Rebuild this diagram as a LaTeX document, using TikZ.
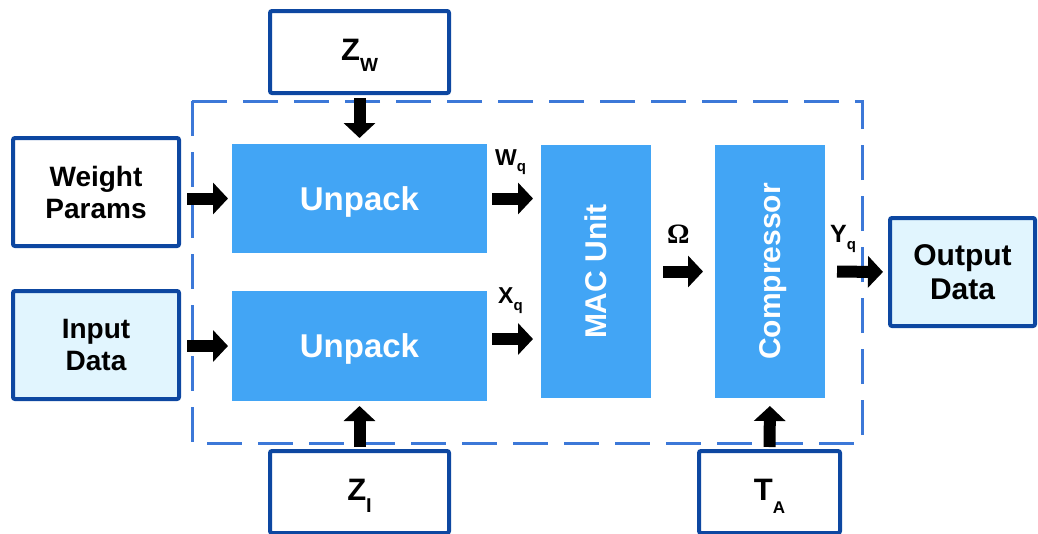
\documentclass[tikz,border=0pt]{standalone}
\usepackage{fontspec}
\setmainfont{Liberation Sans}
\newfontfamily\greekserif{Liberation Serif}
\usetikzlibrary{arrows.meta,calc}

\definecolor{unitblue}{HTML}{42A5F5}
\definecolor{paleblue}{HTML}{E1F5FE}
\definecolor{edgeblue}{HTML}{0D47A1}
\definecolor{dashblue}{HTML}{3C78D8}

% font size helper
\newcommand{\fsz}[1]{\fontsize{#1}{#1}\selectfont}

\begin{document}
\begin{tikzpicture}[x=1pt, y=-1pt, font=\bfseries,
  iobox/.style={draw=edgeblue, line width=4pt, rounded corners=2pt,
                outer sep=0pt, inner sep=0pt, align=center},
  parambox/.style={iobox, fill=white, minimum width=179pt, minimum height=82pt,
                   text height=24pt, text depth=8pt, font=\bfseries\fsz{31}},
  unit/.style={fill=unitblue, text=white, outer sep=0pt, inner sep=0pt,
               text depth=0pt, font=\bfseries\fsz{33}},
  flow/.style={line width=12pt, -{Triangle[width=31pt,length=15pt]}},
  tag/.style={anchor=base west, inner sep=0pt}]

\useasboundingbox (0,0) rectangle (1038,533);

% accelerator boundary
\draw[dashblue, line width=3pt, dash pattern=on 35pt off 16pt]
  (192,101) rectangle (862,443);

% parameter and data boxes
\node[parambox] (zw) at (359.5,52) {Z\raisebox{-11pt}{\fsz{19}W}};
\node[parambox] (zi) at (359.5,492) {Z\raisebox{-12pt}{\fsz{20}I}};
\node[parambox, minimum width=141pt] (ta) at (769.5,492) {T\raisebox{-13pt}{\fsz{17}A}};

\node[iobox, fill=white, minimum width=166pt, minimum height=108pt,
      font=\bfseries\fontsize{28}{32}\selectfont] (wp) at (96,192) {Weight\\Params};
\node[iobox, fill=paleblue, minimum width=166pt, minimum height=108pt,
      font=\bfseries\fontsize{28}{32}\selectfont] (id) at (96,345) {Input\\Data};
\node[iobox, fill=paleblue, minimum width=145pt, minimum height=108pt,
      font=\bfseries\fontsize{30}{34}\selectfont] (od) at (962.5,272) {Output\\Data};

% processing units
\node[unit, minimum width=255pt, minimum height=109pt] (u1) at (359.5,198.5) {Unpack};
\node[unit, minimum width=255pt, minimum height=110pt] (u2) at (359.5,346) {Unpack};
\node[unit, minimum width=110pt, minimum height=253pt, font=\bfseries\fsz{30}]
  (mac) at (596,271.5) {\rotatebox{90}{MAC Unit}};
\node[unit, minimum width=110pt, minimum height=253pt, font=\bfseries\fsz{30}]
  (comp) at (770,271.5) {\rotatebox{90}{\raisebox{0pt}[\height][0pt]{Compressor}}};

% data flow
\draw[flow, shorten <=8pt, shorten >=4pt] (wp.east |- u1.west) -- (u1.west);
\draw[flow, shorten <=8pt, shorten >=4pt] (id.east |- u2.west) -- (u2.west);
\draw[flow, shorten <=5pt, shorten >=6pt] (zw.south) -- (u1.north);
\draw[flow, shorten <=4pt, shorten >=5pt] (zi.north) -- (u2.south);
\draw[flow, shorten <=4pt, shorten >=8pt] (ta.north) -- (comp.south);
\draw[flow, shorten <=5pt, shorten >=8pt] (u1.east) -- (u1.east -| mac.west);
\draw[flow, shorten <=5pt, shorten >=8pt]
  ($(u2.east)+(0,-7)$) coordinate (xqstart) -- (xqstart -| mac.west);
\draw[flow, shorten <=12pt, shorten >=12pt] (mac.east) -- (comp.west);
\draw[flow, shorten <=12pt, shorten >=7pt] (comp.east) -- (od.west);

% signal labels
\node[tag] (wq) at (495,165) {\fsz{23}W\raisebox{-6pt}{\fsz{15}q}};
\node[tag] (xq) at (498,303) {\fsz{23}X\raisebox{-7pt}{\fsz{15}q}};
\node[tag] (om) at (667,243) {\greekserif\fsz{28}Ω};
\node[tag] (yq) at (830,242) {\fsz{25}Y\raisebox{-7pt}{\fsz{15}q}};

\end{tikzpicture}
\end{document}
